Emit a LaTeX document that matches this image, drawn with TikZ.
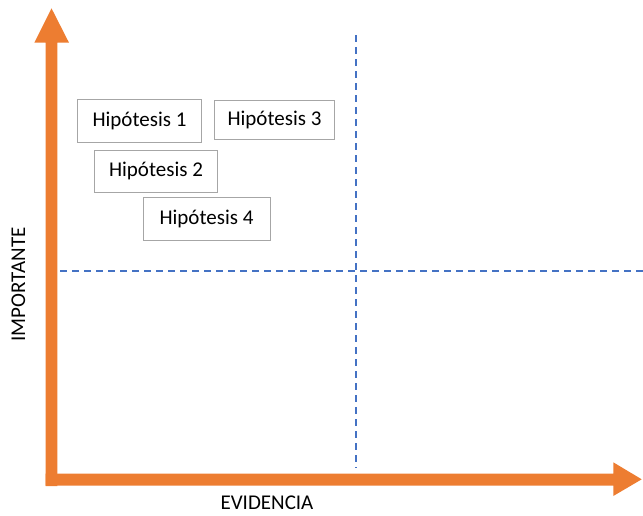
\documentclass[tikz,border=0pt]{standalone}
\usepackage{fontspec}
\setmainfont{Carlito}
\definecolor{axisorange}{HTML}{ED7D31}
\definecolor{dashblue}{HTML}{4472C4}
\definecolor{boxgray}{HTML}{A6A6A6}
\begin{document}
\begin{tikzpicture}[x=1pt,y=-1pt,
  hbox/.style={draw=boxgray,line width=1pt,fill=white,inner sep=0pt,font=\fontsize{21}{24}\selectfont,anchor=north west},
  axislabel/.style={font=\fontsize{21}{24}\selectfont},
  divider/.style={dashblue,line width=1.4pt,dash pattern=on 7pt off 5pt}]
\useasboundingbox (0,0) rectangle (643,515);
% dashed quadrant lines
\coordinate (vtop) at (356,35);
\coordinate (vbot) at (356,468);
\coordinate (hleft) at (48,271);
\coordinate (hright) at (643,271);
\draw[divider] (vtop) -- (vbot);
\draw[divider] (hleft) -- (hright);
% vertical arrow
\fill[axisorange] (45.7,486) -- (45.7,42.7) -- (34.3,42.7) -- (51.5,8.3) -- (69,42.7) -- (57.3,42.7) -- (57.3,486) -- cycle;
% horizontal arrow
\fill[axisorange] (45.7,473.5) -- (613.3,473.5) -- (613.3,462.3) -- (641.7,479.3) -- (613.3,496) -- (613.3,485.7) -- (45.7,485.7) -- cycle;
% boxes
\node[hbox,minimum width=124pt,minimum height=43pt] (h1) at (77,98.5) {Hipótesis 1};
\node[hbox,minimum width=120pt,minimum height=39pt] (h3) at (214,100) {Hipótesis 3};
\node[hbox,minimum width=123pt,minimum height=42pt] (h2) at (94,149.5) {Hipótesis 2};
\node[hbox,minimum width=127pt,minimum height=43pt] (h4) at (142.5,197) {Hipótesis 4};
% axis labels
\node[axislabel] (ev) at (267,503) {EVIDENCIA};
\node[axislabel,rotate=90] (imp) at (18.5,284.5) {IMPORTANTE};
\end{tikzpicture}
\end{document}
